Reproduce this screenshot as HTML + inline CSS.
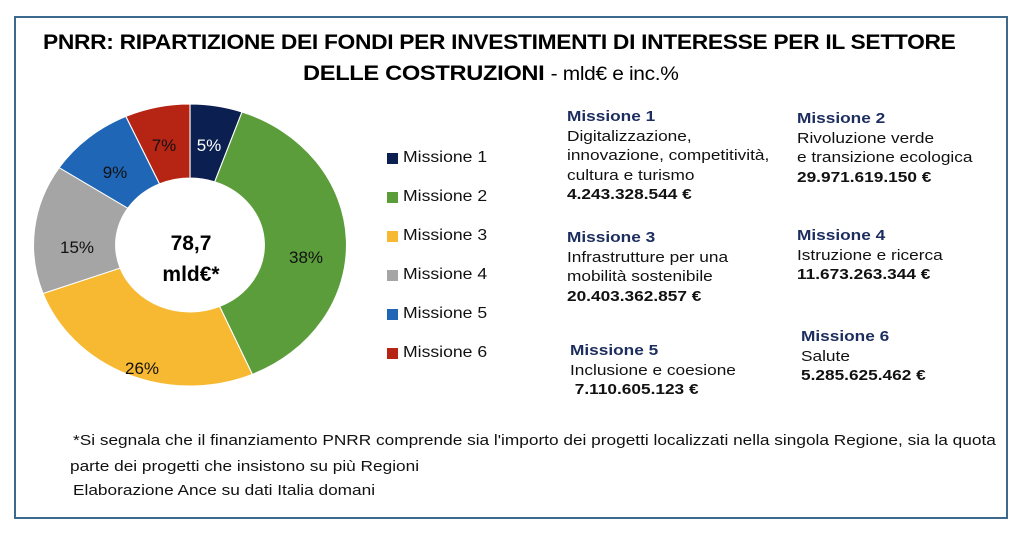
<!DOCTYPE html>
<html><head><meta charset="utf-8"><style>
body{margin:0;width:1024px;height:541px;background:#fff;font-family:"Liberation Sans",sans-serif;position:relative;overflow:hidden}
.box{position:absolute;left:14px;top:16px;width:994px;height:503px;border:2px solid #3d6a8c;box-sizing:border-box}
.t{position:absolute;white-space:nowrap;color:#000;transform-origin:0 0}
.tt{font-weight:bold;font-size:21.5px;letter-spacing:-0.3px;transform:scaleX(1.06)}
.lg{font-size:16px;color:#111;transform:scaleX(1.1)}
.sq{position:absolute;width:11px;height:11px}
.m{font-size:15px;line-height:19.5px;color:#111;transform:scaleX(1.15)}
.m b.h{color:#1c2d5e}
.fn{font-size:15px;color:#111;transform:scaleX(1.15)}
</style></head><body>
<div class="box"></div>
<div class="t tt" style="left:43px;top:30px">PNRR: RIPARTIZIONE DEI FONDI PER INVESTIMENTI DI INTERESSE PER IL SETTORE</div>
<div class="t tt" style="left:303px;top:61px;transform:scaleX(1.1)">DELLE COSTRUZIONI <span style="font-weight:normal;font-size:19px">- mld€ e inc.%</span></div>
<svg style="position:absolute;left:0;top:0" width="1024" height="541">
<g transform="translate(190,245) scale(1.11,1)" id="d"></g>
</svg>
<script>
var v=[4.243,29.972,20.403,11.673,7.111,5.286],c=["#0b1f50","#5b9d3b","#f6b931","#a5a5a5","#1f66b6","#b62414"];
var s=0,tot=v.reduce((a,b)=>a+b),R=141,r=67,h="";
function p(a,rr){return [rr*Math.sin(a),-rr*Math.cos(a)]}
for(var i=0;i<6;i++){var a0=s/tot*2*Math.PI;s+=v[i];var a1=s/tot*2*Math.PI;var L=(a1-a0)>Math.PI?1:0;
var A=p(a0,R),B=p(a1,R),C=p(a1,r),D=p(a0,r);
h+='<path d="M'+A+' A'+R+','+R+' 0 '+L+' 1 '+B+' L'+C+' A'+r+','+r+' 0 '+L+' 0 '+D+'Z" fill="'+c[i]+'" stroke="#fff" stroke-width="1"/>';}
document.getElementById('d').innerHTML=h;
</script>
<svg style="position:absolute;left:0;top:0" width="1024" height="541" font-family="Liberation Sans,sans-serif" font-size="17" text-anchor="middle">
<text x="209" y="151" fill="#fff">5%</text>
<text x="164" y="151" fill="#111">7%</text>
<text x="115" y="178" fill="#111">9%</text>
<text x="77" y="253" fill="#111">15%</text>
<text x="306" y="263" fill="#111">38%</text>
<text x="142" y="374" fill="#111">26%</text>
<text x="191" y="250" font-weight="bold" font-size="21" fill="#000">78,7</text>
<text x="191" y="281" font-weight="bold" font-size="21" fill="#000">mld€*</text>
</svg>
<div class="sq" style="left:387px;top:153px;background:#0b1f50"></div><div class="t lg" style="left:403px;top:149px">Missione 1</div>
<div class="sq" style="left:387px;top:192px;background:#5b9d3b"></div><div class="t lg" style="left:403px;top:188px">Missione 2</div>
<div class="sq" style="left:387px;top:231px;background:#f6b931"></div><div class="t lg" style="left:403px;top:227px">Missione 3</div>
<div class="sq" style="left:387px;top:270px;background:#a5a5a5"></div><div class="t lg" style="left:403px;top:266px">Missione 4</div>
<div class="sq" style="left:387px;top:309px;background:#1f66b6"></div><div class="t lg" style="left:403px;top:305px">Missione 5</div>
<div class="sq" style="left:387px;top:348px;background:#b62414"></div><div class="t lg" style="left:403px;top:344px">Missione 6</div>
<div class="t m" style="left:567px;top:107px"><b class="h">Missione 1</b><br>Digitalizzazione,<br>innovazione, competitività,<br>cultura e turismo<br><b>4.243.328.544 €</b></div>
<div class="t m" style="left:797px;top:109px"><b class="h">Missione 2</b><br>Rivoluzione verde<br>e transizione ecologica<br><b>29.971.619.150 €</b></div>
<div class="t m" style="left:567px;top:228px"><b class="h">Missione 3</b><br>Infrastrutture per una<br>mobilità sostenibile<br><b>20.403.362.857 €</b></div>
<div class="t m" style="left:797px;top:226px"><b class="h">Missione 4</b><br>Istruzione e ricerca<br><b>11.673.263.344 €</b></div>
<div class="t m" style="left:570px;top:341px"><b class="h">Missione 5</b><br>Inclusione e coesione<br><b>&nbsp;7.110.605.123 €</b></div>
<div class="t m" style="left:801px;top:327px"><b class="h">Missione 6</b><br>Salute<br><b>5.285.625.462 €</b></div>
<div class="t fn" style="left:73px;top:432px">*Si segnala che il finanziamento PNRR comprende sia l'importo dei progetti localizzati nella singola Regione, sia la quota</div>
<div class="t fn" style="left:70px;top:458px">parte dei progetti che insistono su più Regioni</div>
<div class="t fn" style="left:73px;top:482px">Elaborazione Ance su dati Italia domani</div>
</body></html>
